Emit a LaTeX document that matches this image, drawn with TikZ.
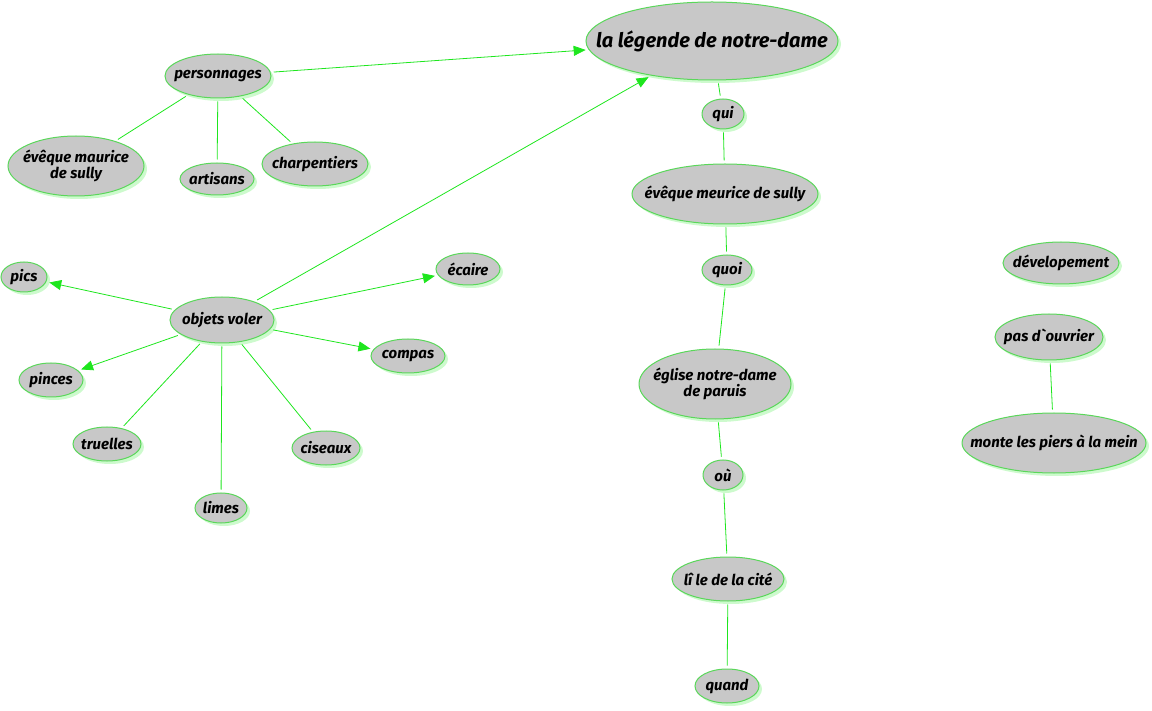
\documentclass[tikz,border=0pt]{standalone}
\usepackage{fontspec}
\setmainfont{Fira Sans}
\usepackage{tikz}
\usetikzlibrary{shapes.geometric,arrows.meta,shadows}
\definecolor{bubblegray}{RGB}{200,200,200}
\definecolor{bordergreen}{RGB}{90,215,90}
\definecolor{linkgreen}{RGB}{30,230,30}
\definecolor{shadowgreen}{RGB}{205,250,205}

\begin{document}
\begin{tikzpicture}[x=1pt,y=-1pt]
\tikzstyle{bubble}=[ellipse, draw=bordergreen, line width=1pt, fill=bubblegray, inner xsep=-20pt, inner ysep=0pt, align=center,
	font=\bfseries\itshape\fontsize{15}{13}\selectfont,
	drop shadow={fill=shadowgreen, shadow xshift=3pt, shadow yshift=-3pt, opacity=1}]
\tikzstyle{link}=[draw=linkgreen, line width=0.8pt, shorten >=3pt, shorten <=3pt]
\tikzstyle{arr}=[link, -{Triangle[length=12pt,width=10pt]}, fill=linkgreen]
\useasboundingbox (0,0) rectangle (1152,711);

% centre
\node[bubble, minimum width=252, minimum height=78, inner xsep=-27pt, font=\bfseries\itshape\fontsize{20}{20}\selectfont] (titre) at (712,41) {la légende de notre-dame};
\node[bubble, minimum width=42, minimum height=30] (qui) at (723,114) {qui};
\node[bubble, minimum width=186, minimum height=60] (eveque2) at (725,194) {évêque meurice de sully};
\node[bubble, minimum width=50, minimum height=30] (quoi) at (727,270) {quoi};
\node[bubble, minimum width=152, minimum height=70] (eglise) at (715,384) {église notre-dame\\de paruis};
\node[bubble, minimum width=40, minimum height=30] (ou) at (723,475) {où};
\node[bubble, minimum width=112, minimum height=44] (ile) at (728,579) {lî le de la cité};
\node[bubble, minimum width=64, minimum height=34] (quand) at (727,686) {quand};

% personnages
\node[bubble, minimum width=106, minimum height=44] (perso) at (218,76) {personnages};
\node[bubble, minimum width=136, minimum height=60] (eveque1) at (76,166) {évêque maurice\\de sully};
\node[bubble, minimum width=74, minimum height=32] (artisans) at (217,179) {artisans};
\node[bubble, minimum width=106, minimum height=44] (charp) at (315,164) {charpentiers};

% objets
\node[bubble, minimum width=104, minimum height=46] (objets) at (222,320) {objets voler};
\node[bubble, minimum width=46, minimum height=30] (pics) at (24,277) {pics};
\node[bubble, minimum width=64, minimum height=32] (ecaire) at (468,269) {écaire};
\node[bubble, minimum width=74, minimum height=34] (compas) at (408,356) {compas};
\node[bubble, minimum width=64, minimum height=34] (pinces) at (51,380) {pinces};
\node[bubble, minimum width=68, minimum height=34] (truelles) at (107,444) {truelles};
\node[bubble, minimum width=52, minimum height=30] (limes) at (221,508) {limes};
\node[bubble, minimum width=68, minimum height=34] (ciseaux) at (326,448) {ciseaux};

% droite
\node[bubble, minimum width=116, minimum height=42] (devel) at (1061,263) {dévelopement};
\node[bubble, minimum width=108, minimum height=46] (pas) at (1049,337) {pas d\textasciigrave ouvrier};
\node[bubble, minimum width=184, minimum height=60] (monte) at (1054,443) {monte les piers à la mein};

\draw[arr] (perso) edge (titre);
\draw[arr] (objets) edge (titre);
\draw[link] (perso) edge (eveque1);
\draw[link] (perso) edge (artisans);
\draw[link] (perso) edge (charp);

\draw[arr] (objets) edge (pics);
\draw[arr] (objets) edge (ecaire);
\draw[arr] (objets) edge (compas);
\draw[arr] (objets) edge (pinces);
\draw[link] (objets) edge (truelles);
\draw[link] (objets) edge (limes);
\draw[link] (objets) edge (ciseaux);

\draw[link] (titre) edge (qui);
\draw[link] (qui) edge (eveque2);
\draw[link] (eveque2) edge (quoi);
\draw[link] (quoi) edge (eglise);
\draw[link] (eglise) edge (ou);
\draw[link] (ou) edge (ile);
\draw[link] (ile) edge (quand);

\draw[link] (pas) edge (monte);

\end{tikzpicture}
\end{document}
